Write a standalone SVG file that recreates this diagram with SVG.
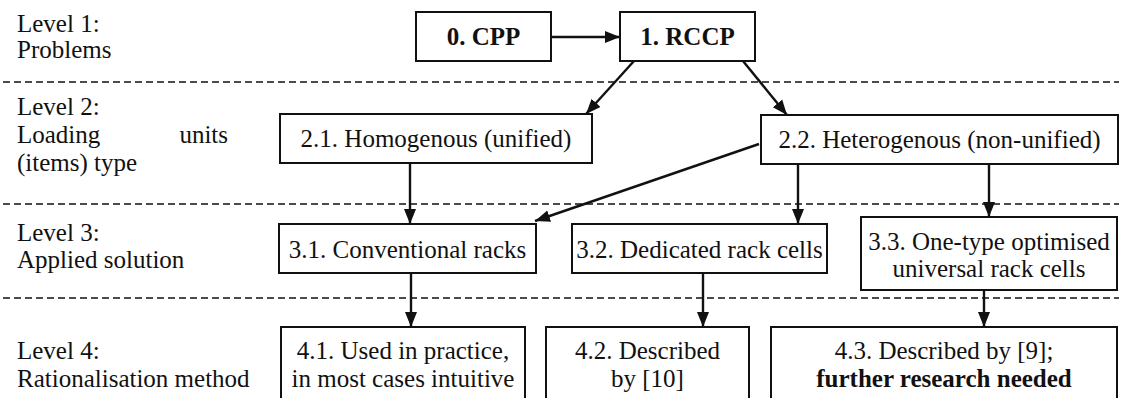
<svg xmlns="http://www.w3.org/2000/svg" width="1121" height="398" viewBox="0 0 1121 398" font-family="'Liberation Serif', 'DejaVu Serif', serif">
<style>
text{font-family:'Liberation Serif','DejaVu Serif',serif;font-size:25px;fill:#111}
.lbl{text-anchor:start}
.c{text-anchor:middle}
.b{font-weight:bold}
.box{fill:#fff;stroke:#111;stroke-width:2}
.sep{stroke:#111;stroke-width:1.6;stroke-dasharray:7 4;fill:none}
.arr{stroke:#111;stroke-width:2.4;fill:none;marker-end:url(#ah)}
</style>
<defs>
<marker id="ah" markerUnits="userSpaceOnUse" markerWidth="16" markerHeight="14" viewBox="0 0 16 14" refX="15" refY="7" orient="auto">
<path d="M0,1 L15,7 L0,13 Z" fill="#111"/>
</marker>
</defs>
<rect width="1121" height="398" fill="#fff"/>
<g id="separators">
<line class="sep" x1="3" y1="82" x2="1119" y2="82"/>
<line class="sep" x1="3" y1="204" x2="1119" y2="204"/>
<line class="sep" x1="3" y1="298" x2="1119" y2="298"/>
</g>
<g id="level-labels">
<text class="lbl" x="17" y="32">Level 1:</text>
<text class="lbl" x="17" y="58">Problems</text>
<text class="lbl" x="17" y="115">Level 2:</text>
<text class="lbl" x="17" y="143">Loading</text>
<text x="228" y="143" text-anchor="end">units</text>
<text class="lbl" x="17" y="171">(items) type</text>
<text class="lbl" x="17" y="241">Level 3:</text>
<text class="lbl" x="17" y="268">Applied solution</text>
<text class="lbl" x="17" y="359">Level 4:</text>
<text class="lbl" x="17" y="387">Rationalisation method</text>
</g>
<g id="connectors">
<line class="arr" x1="551" y1="37" x2="620" y2="37"/>
<line class="arr" x1="634" y1="61" x2="586" y2="114"/>
<line class="arr" x1="743" y1="61" x2="787" y2="115"/>
<line class="arr" x1="410" y1="163" x2="410" y2="224"/>
<line class="arr" x1="759" y1="144" x2="535" y2="221"/>
<line class="arr" x1="798" y1="164" x2="798" y2="224"/>
<line class="arr" x1="989" y1="164" x2="989" y2="217"/>
<line class="arr" x1="411" y1="273" x2="411" y2="327"/>
<line class="arr" x1="703" y1="273" x2="703" y2="327"/>
<line class="arr" x1="984" y1="290" x2="984" y2="327"/>
</g>
<g id="n0-cpp">
<rect class="box" x="416" y="12" width="135" height="49"/>
<text class="c b" x="483.5" y="45">0. CPP</text>
</g>
<g id="n1-rccp">
<rect class="box" x="620" y="12" width="135" height="49"/>
<text class="c b" x="687.5" y="45">1. RCCP</text>
</g>
<g id="n2-1">
<rect class="box" x="280" y="114" width="312" height="49"/>
<text class="c" x="436" y="147">2.1. Homogenous (unified)</text>
</g>
<g id="n2-2">
<rect class="box" x="761" y="115" width="357" height="49"/>
<text class="c" x="939.5" y="148">2.2. Heterogenous (non-unified)</text>
</g>
<g id="n3-1">
<rect class="box" x="279" y="224" width="257" height="49"/>
<text class="c" x="407.5" y="258">3.1. Conventional racks</text>
</g>
<g id="n3-2">
<rect class="box" x="572" y="224" width="255" height="49"/>
<text class="c" x="699.5" y="258">3.2. Dedicated rack cells</text>
</g>
<g id="n3-3">
<rect class="box" x="861" y="217" width="256" height="73"/>
<text class="c" x="989" y="250">3.3. One-type optimised</text>
<text class="c" x="989" y="277">universal rack cells</text>
</g>
<g id="n4-1">
<rect class="box" x="281" y="327" width="244" height="80"/>
<text class="c" x="403" y="359">4.1. Used in practice,</text>
<text class="c" x="403" y="387">in most cases intuitive</text>
</g>
<g id="n4-2">
<rect class="box" x="546" y="327" width="203" height="80"/>
<text class="c" x="647.5" y="359">4.2. Described</text>
<text class="c" x="647.5" y="387">by [10]</text>
</g>
<g id="n4-3">
<rect class="box" x="771" y="327" width="346" height="80"/>
<text class="c" x="944" y="359">4.3. Described by [9];</text>
<text class="c b" x="944" y="387">further research needed</text>
</g>
</svg>
